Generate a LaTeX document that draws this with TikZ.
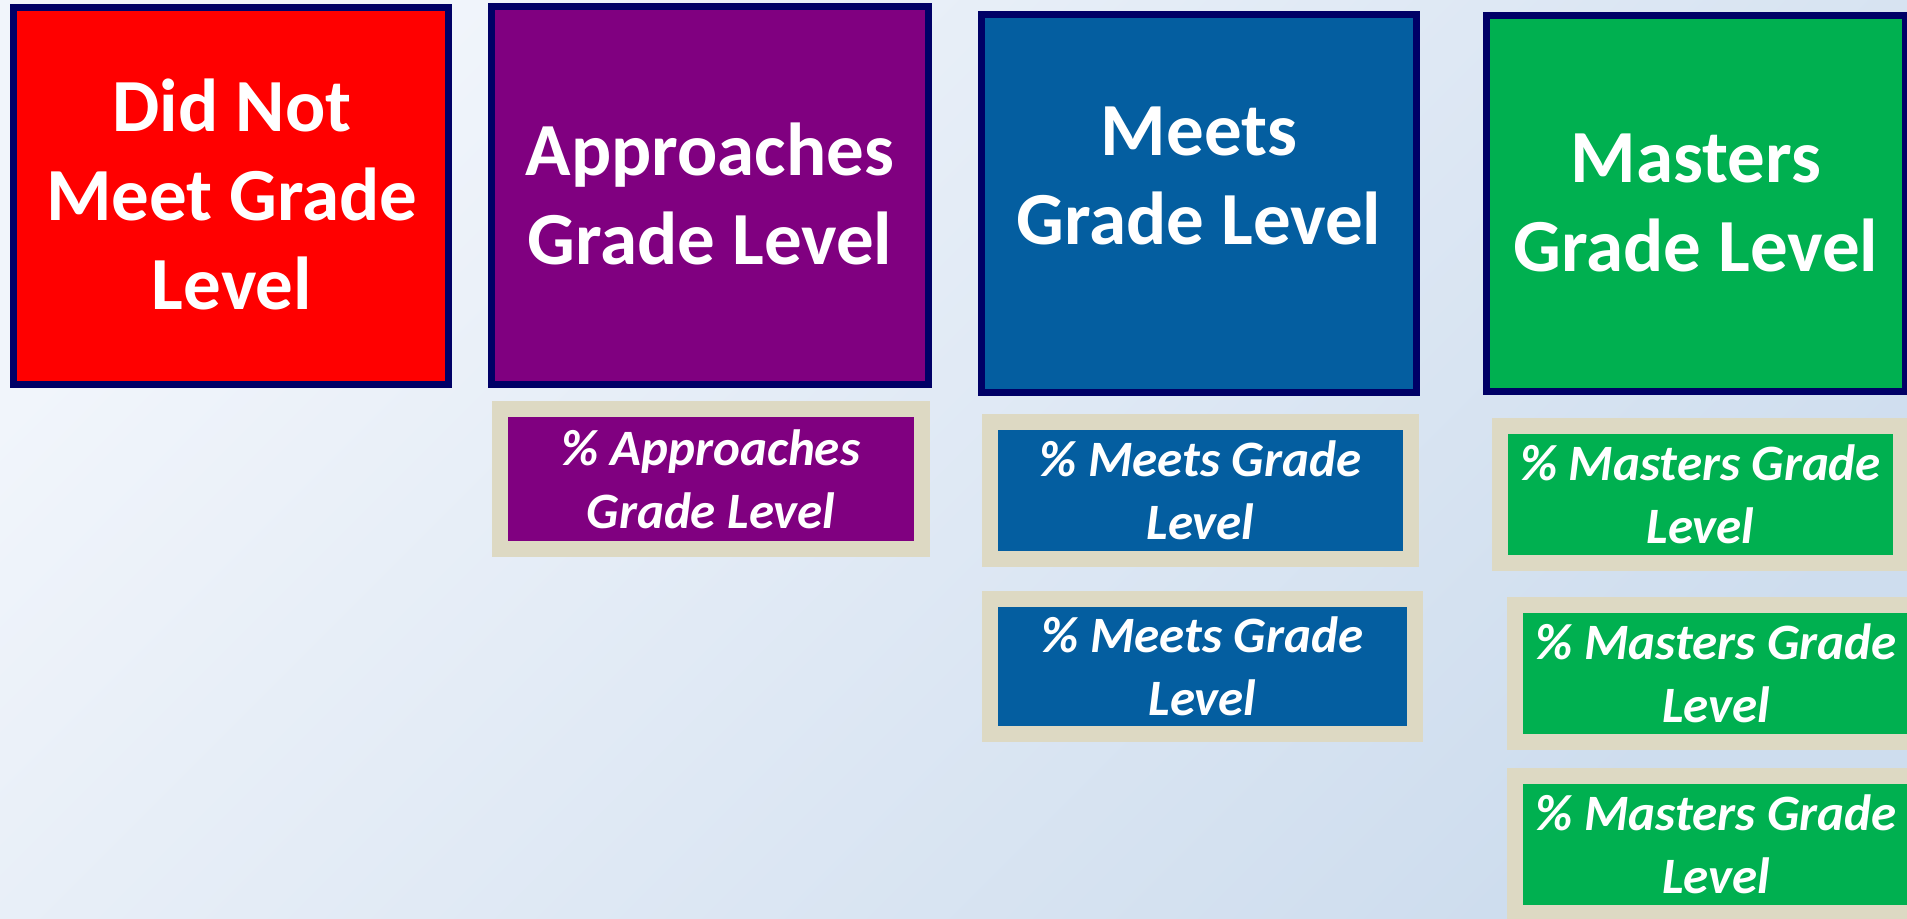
\documentclass[tikz,border=0pt]{standalone}
\usepackage{fontspec}
\setmainfont{Carlito}
\definecolor{bgLight}{HTML}{F1F5FB}
\definecolor{bgMid}{HTML}{E5EDF6}
\definecolor{bgBlue}{HTML}{CEDDEE}
\definecolor{frameNavy}{HTML}{000066}
\definecolor{lvlRed}{HTML}{FF0000}
\definecolor{lvlPurple}{HTML}{800080}
\definecolor{lvlBlue}{HTML}{045EA0}
\definecolor{lvlGreen}{HTML}{00B050}
\definecolor{tan}{HTML}{DDD9C3}
\tikzset{
  levelbox/.style={draw=frameNavy, line width=3.5pt, inner sep=0pt},
  leveltext/.style={text=white, align=center, inner sep=0pt,
    font=\fontsize{37.5}{44.5}\selectfont\bfseries},
  pctbox/.style={draw=tan, line width=8pt, inner sep=0pt, text=white, align=center,
    font=\fontsize{25.5}{31.5}\selectfont\bfseries\itshape},
}
\begin{document}
\begin{tikzpicture}[x=0.5pt, y=-0.5pt]
  \useasboundingbox (0,0) rectangle (1907,918);
  % soft background wash, light at the upper left, bluer toward the lower right
  \shade[top color=bgLight, middle color=bgMid, bottom color=bgBlue, shading angle=45] (0,0) rectangle (1907,918);
  \clip (0,0) rectangle (1907,918);

  % performance level headers
  \node[levelbox, fill=lvlRed, minimum width=217.5pt, minimum height=188.5pt] (dnm) at (231,196) {};
  \node[levelbox, fill=lvlPurple, minimum width=218.5pt, minimum height=189pt] (app) at (710,195.5) {};
  \node[levelbox, fill=lvlBlue, minimum width=217.5pt, minimum height=189pt] (mts) at (1199,203.5) {};
  \node[levelbox, fill=lvlGreen, minimum width=209.5pt, minimum height=188pt] (mst) at (1696,203.5) {};

  \node[leveltext] (dnm-t) at (232,194) {Did Not\\Meet Grade\\Level};
  \node[leveltext] (app-t) at (710,194) {Approaches\\Grade Level};
  \node[leveltext] (mts-t) at (1199,176) {Meets\\Grade Level};
  \node[leveltext] (mst-t) at (1696,203) {Masters\\Grade Level};

  % percentage boxes under each level
  \node[pctbox, fill=lvlPurple, minimum width=211pt, minimum height=70pt] (app-1) at (711,479) {\% Approaches\\Grade Level};
  \node[pctbox, fill=lvlBlue, minimum width=210.5pt, minimum height=68.5pt] (mts-1) at (1200.5,490.5) {\% Meets Grade\\Level};
  \node[pctbox, fill=lvlBlue, minimum width=212.5pt, minimum height=67.5pt] (mts-2) at (1202.5,666.5) {\% Meets Grade\\Level};
  \node[pctbox, fill=lvlGreen, minimum width=200.5pt, minimum height=68.5pt] (mst-1) at (1700.5,494.5) {\% Masters Grade\\Level};
  \node[pctbox, fill=lvlGreen, minimum width=201pt, minimum height=68.5pt] (mst-2) at (1716,673.5) {\% Masters Grade\\Level};
  \node[pctbox, fill=lvlGreen, minimum width=201pt, minimum height=68.5pt] (mst-3) at (1716,844) {\% Masters Grade\\Level};
\end{tikzpicture}
\end{document}
